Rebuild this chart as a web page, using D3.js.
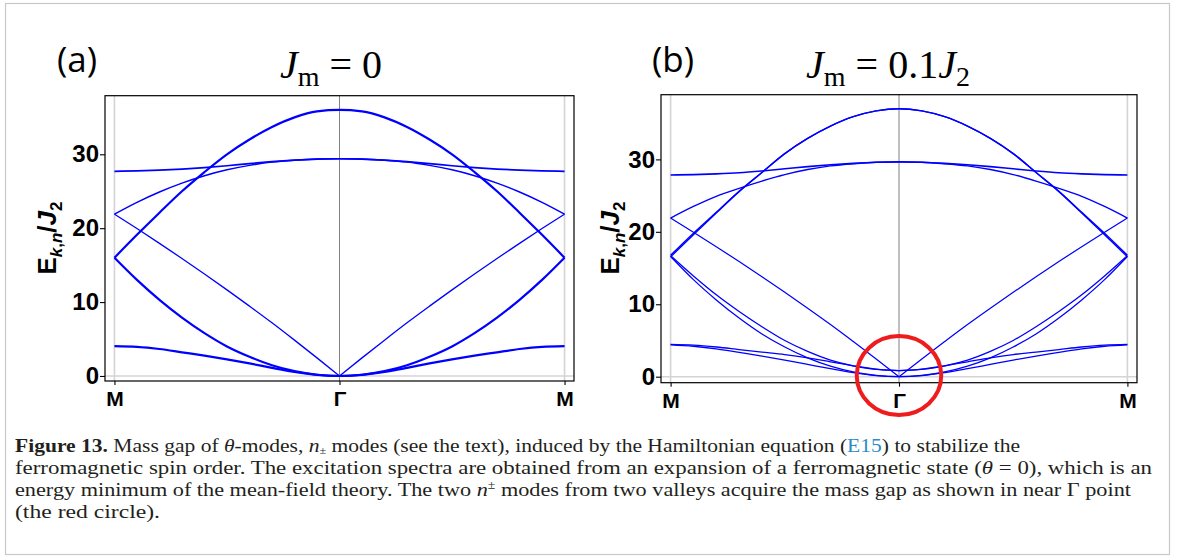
<!DOCTYPE html>
<html>
<head>
<meta charset="utf-8">
<script src="https://cdn.jsdelivr.net/npm/d3@7"></script>
<style>
  html, body { margin: 0; padding: 0; background: #fff; }
  svg { display: block; }
</style>
</head>
<body>
<svg id="fig" width="1179" height="558"></svg>
<script>
// ---- data -----------------------------------------------------------
// Fraction of the path M -> Γ at which each band energy is sampled;
// the Γ -> M half is the mirror image.
const pathFrac = [0, 0.1, 0.2, 0.3, 0.4, 0.5, 0.6, 0.7, 0.8, 0.9, 1.0];
const kPoints = [0, 1, 2];
const kLabels = ["M", "Γ", "M"];
const energyTicks = [0, 10, 20, 30];

// (a) J_m = 0
const aDome     = [16.0, 19.1, 22.1, 25.0, 27.6, 30.0, 32.0, 33.7, 35.0, 35.8, 36.0];
const aFlat     = [27.7, 27.75, 27.85, 28.0, 28.2, 28.45, 28.75, 29.0, 29.2, 29.35, 29.4];
const aUpper    = [21.9, 23.5, 24.9, 26.1, 27.1, 27.9, 28.5, 28.95, 29.2, 29.35, 29.4];
const aLinear   = [21.9, 19.95, 17.95, 15.9, 13.8, 11.65, 9.45, 7.2, 4.85, 2.45, 0];
const aAcoustic = [16.0, 13.0, 10.3, 7.9, 5.8, 4.0, 2.6, 1.45, 0.65, 0.17, 0];
const aLow      = [4.05, 3.95, 3.65, 3.2, 2.75, 2.25, 1.7, 1.1, 0.55, 0.15, 0];

// (b) J_m = 0.1 J_2
const bDomeA       = [16.75, 19.8, 22.7, 25.6, 28.2, 30.8, 32.9, 34.6, 35.9, 36.7, 37.0];
const bDomeB       = [16.55, 19.6, 22.6, 25.55, 28.2, 30.8, 32.9, 34.6, 35.9, 36.7, 37.0];
const bFlat        = [27.85, 27.9, 28.0, 28.15, 28.4, 28.7, 29.0, 29.25, 29.45, 29.6, 29.65];
const bUpper       = [21.9, 23.5, 24.9, 26.0, 27.0, 27.9, 28.6, 29.1, 29.4, 29.6, 29.65];
const bLinear      = [21.9, 19.95, 17.95, 15.9, 13.8, 11.65, 9.45, 7.2, 4.85, 2.45, 0];
const bAcousticGap = [16.7, 13.9, 11.3, 9.0, 6.9, 5.0, 3.5, 2.3, 1.5, 1.0, 0.85];
const bAcoustic    = [16.6, 13.4, 10.6, 8.1, 5.9, 4.1, 2.6, 1.45, 0.65, 0.17, 0];
const bLowGap      = [4.45, 4.35, 4.1, 3.75, 3.4, 3.05, 2.6, 2.05, 1.5, 1.05, 0.85];
const bLow         = [4.4, 4.2, 3.85, 3.35, 2.85, 2.3, 1.7, 1.1, 0.55, 0.15, 0];

// Highlight around Γ in (b): centre (k, E) and half-widths (k, E)
const gapCircleCenter = [1, 0.15];
const gapCircleRadius = [0.185, 5.45];

// ---- layout ---------------------------------------------------------
const svg = d3.select("#fig");
svg.append("rect").attr("width", 1179).attr("height", 558).attr("fill", "#fff");
svg.append("rect")
  .attr("x", 5.5).attr("y", 3.5).attr("width", 1164).attr("height", 551)
  .attr("fill", "none").attr("stroke", "#c8c8c8").attr("stroke-width", 1.2);

const BLUE = "#0000ff";

const panels = [
  {
    tag: "(a)", tagX: 57, titleX: 331, ylabelX: 56,
    box: { left: 105, right: 574, top: 95.7, bottom: 381 },
    yDomain: [-0.68, 37.93],
    title: [["J", "italic"], ["m", "sub"], [" = 0", "plain"]],
    bands: [
      { v: aFlat, w: 1.7 }, { v: aUpper, w: 1.5 }, { v: aLinear, w: 1.3, kink: true },
      { v: aLow, w: 2.2 }, { v: aAcoustic, w: 2.2 }, { v: aDome, w: 2.2 }
    ]
  },
  {
    tag: "(b)", tagX: 652, titleX: 888, ylabelX: 619,
    box: { left: 661, right: 1137, top: 94.7, bottom: 382.7 },
    yDomain: [-0.83, 38.93],
    title: [["J", "italic"], ["m", "sub"], [" = 0.1", "plain"], ["J", "italic"], ["2", "sub"]],
    bands: [
      { v: bFlat, w: 1.6 }, { v: bUpper, w: 1.4 }, { v: bLinear, w: 1.25, kink: true },
      { v: bLowGap, w: 1.3 }, { v: bLow, w: 1.3 },
      { v: bAcousticGap, w: 1.3 }, { v: bAcoustic, w: 1.3 },
      { v: bDomeA, w: 1.4 }, { v: bDomeB, w: 1.4 }
    ],
    circle: true
  }
];

panels.forEach(p => {
  const b = p.box;
  const x = d3.scaleLinear().domain([-0.042, 2.042]).range([b.left, b.right]);
  const y = d3.scaleLinear().domain(p.yDomain).range([b.bottom, b.top]);
  const g = svg.append("g");

  // clip the bands to the frame
  const clipId = "clip" + p.tag.replace(/\W/g, "");
  svg.append("clipPath").attr("id", clipId).append("rect")
    .attr("x", b.left).attr("y", b.top)
    .attr("width", b.right - b.left).attr("height", b.bottom - b.top);

  // reference lines: M edges, E = 0, Γ
  g.selectAll("line.edge").data([kPoints[0], kPoints[2]]).join("line")
    .attr("x1", d => x(d)).attr("x2", d => x(d))
    .attr("y1", b.top).attr("y2", b.bottom)
    .attr("stroke", "#d4d4d4").attr("stroke-width", 1.6);
  g.append("line")
    .attr("x1", b.left).attr("x2", b.right)
    .attr("y1", y(0)).attr("y2", y(0))
    .attr("stroke", "#d4d4d4").attr("stroke-width", 1.6);
  g.append("line")
    .attr("x1", x(kPoints[1])).attr("x2", x(kPoints[1]))
    .attr("y1", b.top).attr("y2", b.bottom)
    .attr("stroke", "#808080").attr("stroke-width", 1);

  // bands
  const line = d3.line().x(d => x(d[0])).y(d => y(d[1])).curve(d3.curveMonotoneX);
  const bandG = g.append("g").attr("clip-path", `url(#${clipId})`);
  p.bands.forEach(band => {
    const left = pathFrac.map((f, i) => [f, band.v[i]]);
    const right = pathFrac.map((f, i) => [2 - f, band.v[i]]).reverse();
    const pieces = band.kink ? [left, right] : [left.concat(right.slice(1))];
    pieces.forEach(pts => {
      bandG.append("path")
        .attr("d", line(pts))
        .attr("fill", "none")
        .attr("stroke", BLUE)
        .attr("stroke-width", band.w)
        .attr("stroke-linejoin", "round");
    });
  });

  // frame
  g.append("rect")
    .attr("x", b.left).attr("y", b.top)
    .attr("width", b.right - b.left).attr("height", b.bottom - b.top)
    .attr("fill", "none").attr("stroke", "#000").attr("stroke-width", 1.2);

  // axes
  const yAxis = g.append("g").attr("transform", `translate(${b.left},0)`)
    .call(d3.axisLeft(y).tickValues(energyTicks).tickSize(5).tickPadding(1));
  const xAxis = g.append("g").attr("transform", `translate(0,${b.bottom})`)
    .call(d3.axisBottom(x).tickValues(kPoints).tickFormat((d, i) => kLabels[i])
      .tickSize(4).tickPadding(6));
  [yAxis, xAxis].forEach(ax => {
    ax.select(".domain").remove();
    ax.selectAll("line").attr("stroke", "#000").attr("stroke-width", 1.1);
    ax.selectAll("text").attr("fill", "#000")
      .attr("font-family", "'Liberation Sans', Arial, sans-serif")
      .attr("font-weight", "bold");
  });
  yAxis.selectAll("text").attr("font-size", 24);
  xAxis.selectAll("text").attr("font-size", 21);

  // vertical axis label  E_{k,n}/J_2
  const yl = svg.append("text")
    .attr("transform", `translate(${p.ylabelX},238) rotate(-90)`)
    .attr("text-anchor", "middle")
    .attr("font-family", "'Liberation Sans', Arial, sans-serif")
    .attr("font-weight", "bold").attr("font-size", 26).attr("fill", "#000");
  yl.append("tspan").text("E");
  yl.append("tspan").attr("font-size", 17).attr("font-style", "italic").attr("dy", 6).text("k");
  yl.append("tspan").attr("font-size", 17).attr("dy", 0).text(",");
  yl.append("tspan").attr("font-size", 17).attr("font-style", "italic").text("n");
  yl.append("tspan").attr("dy", -6).text("/");
  yl.append("tspan").attr("font-style", "italic").text("J");
  yl.append("tspan").attr("font-size", 17).attr("dy", 6).text("2");

  // panel tag and title
  svg.append("text")
    .attr("x", p.tagX).attr("y", 72)
    .attr("font-family", "'Open Sans', 'Noto Sans', sans-serif")
    .attr("font-size", 35).attr("fill", "#000").text(p.tag);

  const t = svg.append("text")
    .attr("x", p.titleX).attr("y", 78).attr("text-anchor", "middle")
    .attr("font-family", "'Liberation Serif', 'DejaVu Serif', serif")
    .attr("font-size", 40).attr("fill", "#000");
  let lifted = false;
  p.title.forEach(([txt, kind]) => {
    const s = t.append("tspan").text(txt);
    if (kind === "italic") s.attr("font-style", "italic");
    if (kind === "sub") { s.attr("font-size", 28).attr("dy", 8); lifted = true; }
    else if (lifted) { s.attr("dy", -8); lifted = false; }
  });

  if (p.circle) {
    g.append("ellipse")
      .attr("cx", x(gapCircleCenter[0])).attr("cy", y(gapCircleCenter[1]))
      .attr("rx", x(gapCircleCenter[0] + gapCircleRadius[0]) - x(gapCircleCenter[0]))
      .attr("ry", y(gapCircleCenter[1]) - y(gapCircleCenter[1] + gapCircleRadius[1]))
      .attr("fill", "none").attr("stroke", "#ee1c1c").attr("stroke-width", 4);
  }
});

// ---- caption --------------------------------------------------------
const capLines = [
  { y: 452, len: 1005, parts: [
    ["Figure 13.", "bold"], [" Mass gap of ", ""], ["θ", "italic"], ["-modes, ", ""],
    ["n", "italic"], ["±", "sub"], [" modes (see the text), induced by the Hamiltonian equation (", ""],
    ["E15", "link"], [") to stabilize the", ""]
  ]},
  { y: 474, len: 1137, parts: [
    ["ferromagnetic spin order. The excitation spectra are obtained from an expansion of a ferromagnetic state (", ""],
    ["θ", "italic"], [" = 0), which is an", ""]
  ]},
  { y: 496, len: 1116, parts: [
    ["energy minimum of the mean-field theory. The two ", ""], ["n", "italic"], ["±", "sup"],
    [" modes from two valleys acquire the mass gap as shown in near Γ point", ""]
  ]},
  { y: 518, len: 145, parts: [["(the red circle).", ""]] }
];

capLines.forEach(l => {
  const t = svg.append("text")
    .attr("x", 15).attr("y", l.y)
    .attr("font-family", "'Liberation Serif', 'DejaVu Serif', serif")
    .attr("font-size", 19.5).attr("fill", "#231f20")
    .attr("textLength", l.len).attr("lengthAdjust", "spacingAndGlyphs");
  let shift = 0;
  l.parts.forEach(([txt, kind]) => {
    const s = t.append("tspan").text(txt);
    let target = 0;
    if (kind === "bold") s.attr("font-weight", "bold");
    if (kind === "italic") s.attr("font-style", "italic");
    if (kind === "link") s.attr("fill", "#2a8bc7");
    if (kind === "sub") { s.attr("font-size", 11); target = 1.5; }
    if (kind === "sup") { s.attr("font-size", 12); target = -7; }
    if (target !== shift) { s.attr("dy", target - shift); shift = target; }
  });
});
</script>
</body>
</html>
